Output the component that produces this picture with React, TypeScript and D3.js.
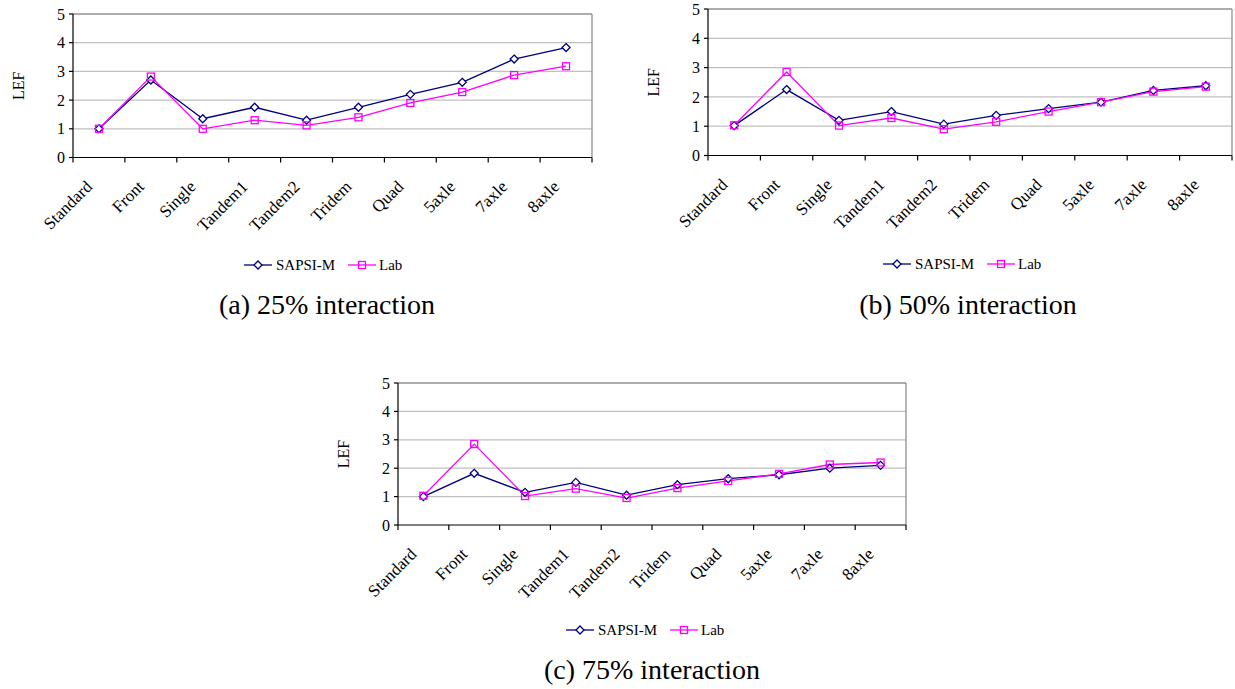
import React from "react";
import * as d3 from "d3";

const categories = ["Standard", "Front", "Single", "Tandem1", "Tandem2", "Tridem", "Quad", "5axle", "7axle", "8axle"];
const yTicks = [0, 1, 2, 3, 4, 5];

const sapsi25 = [1.0, 2.7, 1.35, 1.75, 1.3, 1.75, 2.2, 2.62, 3.43, 3.83];
const lab25 = [1.0, 2.82, 1.0, 1.3, 1.12, 1.4, 1.9, 2.28, 2.87, 3.18];
const sapsi50 = [1.02, 2.25, 1.2, 1.5, 1.07, 1.37, 1.6, 1.82, 2.22, 2.38];
const lab50 = [1.03, 2.85, 1.02, 1.28, 0.9, 1.15, 1.5, 1.82, 2.18, 2.35];
const sapsi75 = [1.0, 1.82, 1.15, 1.5, 1.05, 1.42, 1.63, 1.77, 2.0, 2.1];
const lab75 = [1.03, 2.85, 1.02, 1.28, 0.95, 1.3, 1.55, 1.8, 2.13, 2.2];

const captions = ["(a) 25% interaction", "(b) 50% interaction", "(c) 75% interaction"];
const seriesNames = ["SAPSI-M", "Lab"];

const NAVY = "#000080";
const MAGENTA = "#ff00ff";
const FONT = "\"Liberation Serif\", \"Times New Roman\", \"DejaVu Serif\", serif";
const fs = (size: number) => ({ fontFamily: FONT, fontSize: size });

function Diamond({ x, y }: { x: number; y: number }) {
  const r = 4;
  return (
    <path
      d={`M${x},${y - r}L${x + r},${y}L${x},${y + r}L${x - r},${y}Z`}
      fill="white"
      stroke={NAVY}
      strokeWidth={1.3}
    />
  );
}

function Square({ x, y }: { x: number; y: number }) {
  const r = 3.5;
  return <rect x={x - r} y={y - r} width={2 * r} height={2 * r} fill="none" stroke={MAGENTA} strokeWidth={1.3} />;
}

type PanelProps = {
  x0: number; x1: number; yTop: number; yBot: number;
  sapsi: number[]; lab: number[];
  legX: number; legY: number;
  capX: number; capY: number; caption: string;
};

function Panel(p: PanelProps) {
  const x = d3.scaleBand<string>().domain(categories).range([p.x0, p.x1]);
  const y = d3.scaleLinear().domain([0, 5]).range([p.yBot, p.yTop]);
  const cx = (c: string) => (x(c) as number) + x.bandwidth() / 2;
  const line = d3
    .line<number>()
    .x((_, i) => cx(categories[i]))
    .y((v) => y(v));
  const tickXs = categories.map((c) => x(c) as number).concat([p.x1]);
  return (
    <g>
      {yTicks.filter((t) => t > 0 && t < 5).map((t) => (
        <line key={t} x1={p.x0} x2={p.x1} y1={y(t)} y2={y(t)} stroke="#c0c0c0" strokeWidth={1.2} />
      ))}
      <line x1={p.x0} x2={p.x1} y1={y(5)} y2={y(5)} stroke="#909090" strokeWidth={1.3} />
      <line x1={p.x1} x2={p.x1} y1={y(5)} y2={y(0)} stroke="#909090" strokeWidth={1.3} />
      <line x1={p.x0} x2={p.x0} y1={y(5)} y2={y(0)} stroke="black" strokeWidth={1.2} />
      <line x1={p.x0} x2={p.x1} y1={y(0)} y2={y(0)} stroke="black" strokeWidth={1.2} />
      {yTicks.map((t) => (
        <g key={t}>
          <line x1={p.x0 - 4} x2={p.x0} y1={y(t)} y2={y(t)} stroke="black" strokeWidth={1.2} />
          <text x={p.x0 - 8} y={y(t)} dy="0.35em" textAnchor="end" style={fs(16)}>
            {t}
          </text>
        </g>
      ))}
      {tickXs.map((tx, i) => (
        <line key={i} x1={tx} x2={tx} y1={y(0)} y2={y(0) + 5} stroke="black" strokeWidth={1.2} />
      ))}
      {categories.map((c) => (
        <text
          key={c}
          transform={`translate(${cx(c) - 10},${y(0) + 26}) rotate(-45)`}
          textAnchor="end"
          dy="0.35em"
          style={fs(17)}
        >
          {c}
        </text>
      ))}
      <text
        transform={`translate(${p.x0 - 55},${(y(0) + y(5)) / 2}) rotate(-90)`}
        textAnchor="middle"
        dy="0.35em"
        style={fs(16)}
      >
        LEF
      </text>
      <path d={line(p.sapsi) || ""} fill="none" stroke={NAVY} strokeWidth={1.3} />
      <path d={line(p.lab) || ""} fill="none" stroke={MAGENTA} strokeWidth={1.3} />
      {p.sapsi.map((v, i) => (
        <Diamond key={"d" + i} x={cx(categories[i])} y={y(v)} />
      ))}
      {p.lab.map((v, i) => (
        <Square key={"s" + i} x={cx(categories[i])} y={y(v)} />
      ))}
      <g transform={`translate(${p.legX},${p.legY})`}>
        <line x1={0} x2={28} y1={0} y2={0} stroke={NAVY} strokeWidth={1.3} />
        <Diamond x={14} y={0} />
        <text x={32} y={0} dy="0.35em" style={fs(15)}>
          {seriesNames[0]}
        </text>
        <line x1={104} x2={132} y1={0} y2={0} stroke={MAGENTA} strokeWidth={1.3} />
        <Square x={118} y={0} />
        <text x={135} y={0} dy="0.35em" style={fs(15)}>
          {seriesNames[1]}
        </text>
      </g>
      <text x={p.capX} y={p.capY} textAnchor="middle" style={fs(28)}>
        {p.caption}
      </text>
    </g>
  );
}

export default function App() {
  return (
    <svg width={1235} height={689} style={{ position: "absolute", left: 0, top: 0, background: "white" }}>
      <rect width={1235} height={689} fill="white" />
      <Panel x0={73} x1={592} yTop={14} yBot={157.5} sapsi={sapsi25} lab={lab25}
        legX={244} legY={265} capX={327} capY={314} caption={captions[0]} />
      <Panel x0={708} x1={1232} yTop={9} yBot={155.5} sapsi={sapsi50} lab={lab50}
        legX={883} legY={264} capX={968} capY={314} caption={captions[1]} />
      <Panel x0={398} x1={906} yTop={383} yBot={525} sapsi={sapsi75} lab={lab75}
        legX={566} legY={630} capX={652} capY={679} caption={captions[2]} />
    </svg>
  );
}
